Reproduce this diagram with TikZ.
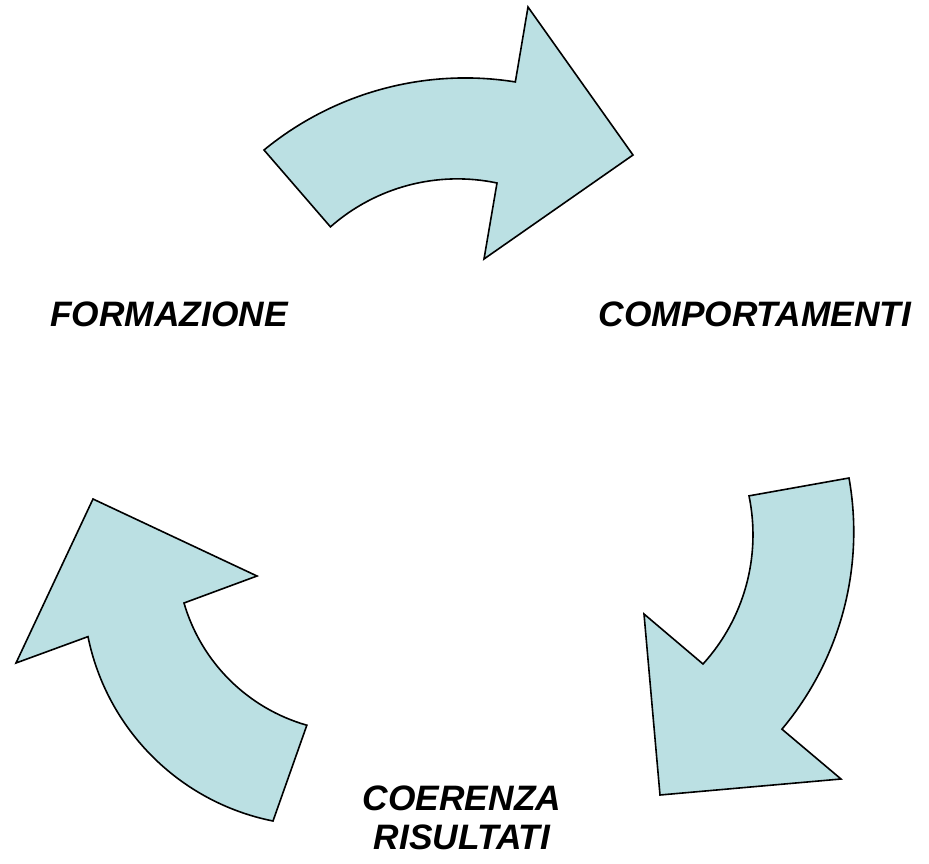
\documentclass[tikz,border=0pt]{standalone}
\usepackage{fontspec}
\setmainfont{Liberation Sans}
\definecolor{azzurro}{RGB}{187,224,227}

\begin{document}
\begin{tikzpicture}[x=0.75pt, y=-0.75pt,
    freccia/.style={fill=azzurro, draw=black, line width=1.2pt, line join=miter},
    etichetta/.style={font=\fontsize{26.5}{29.5}\selectfont\bfseries\itshape, align=center}]
        \useasboundingbox (0,0) rectangle (929,864); % page size
        \draw[freccia] (264,150) arc[start angle=-129.4, end angle=-80.9, radius=317] % top arrow, outer side
          -- (528,7) -- (633,155) -- (484,259) -- (497,183)
          arc[start angle=-78.1, end angle=-131.4, radius=192] -- cycle; % inner side
        \draw[freccia] (849,478) arc[start angle=-10.1, end angle=40, radius=307] % right arrow, outer side
          -- (841,779) -- (660,795) -- (644,614) -- (703,664)
          arc[start angle=42.3, end angle=-11.7, radius=192] -- cycle; % inner side
        \draw[freccia] (93,499) -- (257,576) -- (184,603)
          arc[start angle=163.8, end angle=105.9, radius=179] % left arrow, inner side
          -- (273,821) arc[start angle=101.3, end angle=168.5, radius=236] % outer side
          -- (16,663) -- cycle;
        \node[etichetta] (formazione) at (169,314) {FORMAZIONE};
        \node[etichetta] (comportamenti) at (755,314) {COMPORTAMENTI};
        \node[etichetta] (coerenza) at (462,818) {COERENZA\\RISULTATI};
      \end{tikzpicture}
\end{document}
